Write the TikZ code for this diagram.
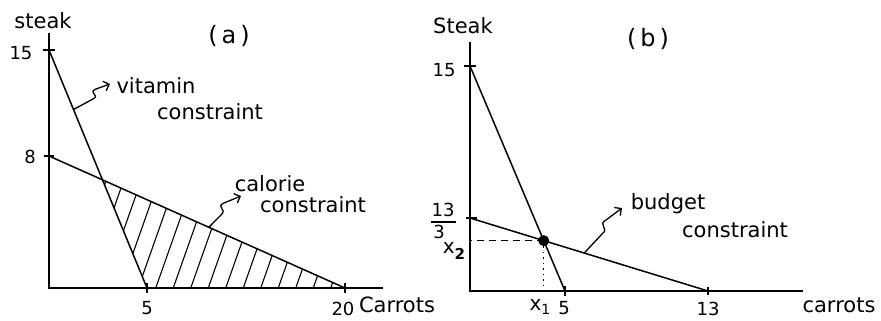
\documentclass[tikz,border=0pt]{standalone}
\usepackage{fontspec}
\setmainfont{DejaVu Sans}
\usetikzlibrary{arrows.meta,calc}
\begin{document}
\begin{tikzpicture}[x=1pt,y=-1pt,
  axis/.style={line width=2pt},
  cline/.style={line width=1.5pt},
  hatchline/.style={line width=1.1pt},
  tickmark/.style={line width=1.8pt},
  lbl/.style={font=\fontsize{21}{24}\selectfont, inner sep=0pt},
  num/.style={font=\fontsize{18}{20}\selectfont, inner sep=0pt},
  panel/.style={font=\fontsize{24}{26}\selectfont, inner sep=0pt},
  squig/.style={line width=1.3pt, line join=round, -{Straight Barb[length=5pt,width=10pt]}},
]
\useasboundingbox (0,0) rectangle (881,321);

% ---------------- panel (a)
\coordinate (aO) at (49,288);
\coordinate (aYtop) at (49,33);
\coordinate (aXend) at (383,288);
\coordinate (a15) at (49,50);
\coordinate (a8) at (49,156);
\coordinate (a5) at (147,288);
\coordinate (a20) at (345,288);
\coordinate (aI) at (intersection of a15--a5 and a8--a20);

\begin{scope}
  \clip (aI) -- (a5) -- (a20) -- cycle;
  \foreach \k in {0,...,16} \draw[hatchline] (64+17.5*\k,300) -- ++(60,-170);
\end{scope}

\draw[axis] (aYtop) -- (aO) -- (aXend);
\draw[tickmark] ([xshift=-6pt]a15) -- ([xshift=6pt]a15);
\draw[tickmark] ([xshift=-5pt]a8) -- ([xshift=5pt]a8);
\draw[tickmark] ([yshift=-5pt]a5) -- ([yshift=5pt]a5);
\draw[tickmark] ([yshift=-5pt]a20) -- ([yshift=5pt]a20);
\draw[cline] (a15) -- (a5);
\draw[cline] (a8) -- (a20);

\coordinate (vs) at ($(a15)!0.25!(a5)$);
\draw[squig] (vs) -- (93,99) .. controls (101,95) and (87,93) .. (96,89) -- (110,84);
\coordinate (cs) at ($(a8)!0.54!(a20)$);
\draw[squig] (cs) -- (221,215) .. controls (228,209) and (215,207) .. (224,203) -- (241,196);

\node[lbl] (asteak) at (43,21) {steak};
\node[panel] (alab) at (229,36) {(\,a\,)};
\node[num] (a15l) at (21,53) {15};
\node[num] (a8l) at (30,157) {8};
\node[num] (a5l) at (147,308) {5};
\node[num] (a20l) at (343,309) {20};
\node[lbl] (acarrots) at (397,305) {Carrots};
\node[lbl] (vit1) at (156,86) {vitamin};
\node[lbl] (vit2) at (210,112) {constraint};
\node[lbl] (cal1) at (270,184) {calorie};
\node[lbl] (cal2) at (313,205) {constraint};

% ---------------- panel (b)
\coordinate (bO) at (470,291);
\coordinate (bYtop) at (470,42);
\coordinate (bXend) at (803,291);
\coordinate (b15) at (470,66);
\coordinate (b133) at (470,218);
\coordinate (b5) at (565,291);
\coordinate (b13) at (708,291);
\coordinate (bI) at (intersection of b15--b5 and b133--b13);

\draw[axis] (bYtop) -- (bO) -- (bXend);
\draw[tickmark] ([xshift=-6pt]b15) -- ([xshift=6pt]b15);
\draw[tickmark] ([xshift=-4pt]b133) -- ([xshift=7pt]b133);
\draw[tickmark] ([yshift=-5pt]b5) -- ([yshift=5pt]b5);
\draw[tickmark] ([yshift=-4pt]b13) -- ([yshift=4pt]b13);
\draw[cline] (b15) -- (b5);
\draw[cline] (b133) -- (b13);
\draw[line width=1.2pt, dash pattern=on 7pt off 5pt] (bI) -- (bI -| bO);
\draw[line width=1.4pt, dash pattern=on 1.5pt off 4pt] (bI) -- (bI |- bO);
\fill (bI) circle (5.5pt);

\coordinate (bs) at ($(b133)!0.48!(b13)$);
\draw[squig] (bs) -- (602,234) .. controls (610,228) and (597,225) .. (606,220) -- (622,208);

\node[lbl] (bsteak) at (463,26) {Steak};
\node[panel] (blab) at (648,39) {(\,b\,)};
\node[num] (b15l) at (444,70) {15};
\node[num] (b13l) at (443,210) {13};
\draw[line width=1.3pt] (431,222) -- (456,222);
\node[num] (b3l) at (439,232) {3};
\node[num, font=\fontsize{20}{22}\selectfont] (bx2) at (454,251) {x\raisebox{-6pt}{\fontsize{15}{15}\selectfont\bfseries 2}};
\node[num, font=\fontsize{20}{22}\selectfont] (bx1) at (540,307) {x\raisebox{-4pt}{\fontsize{14}{14}\selectfont 1}};
\node[num] (b5l) at (564,308) {5};
\node[num] (b13xl) at (708,309) {13};
\node[lbl] (bcarrots) at (839,305) {carrots};
\node[lbl] (bud1) at (668,204) {budget};
\node[lbl] (bud2) at (735,230) {constraint};
\end{tikzpicture}
\end{document}
